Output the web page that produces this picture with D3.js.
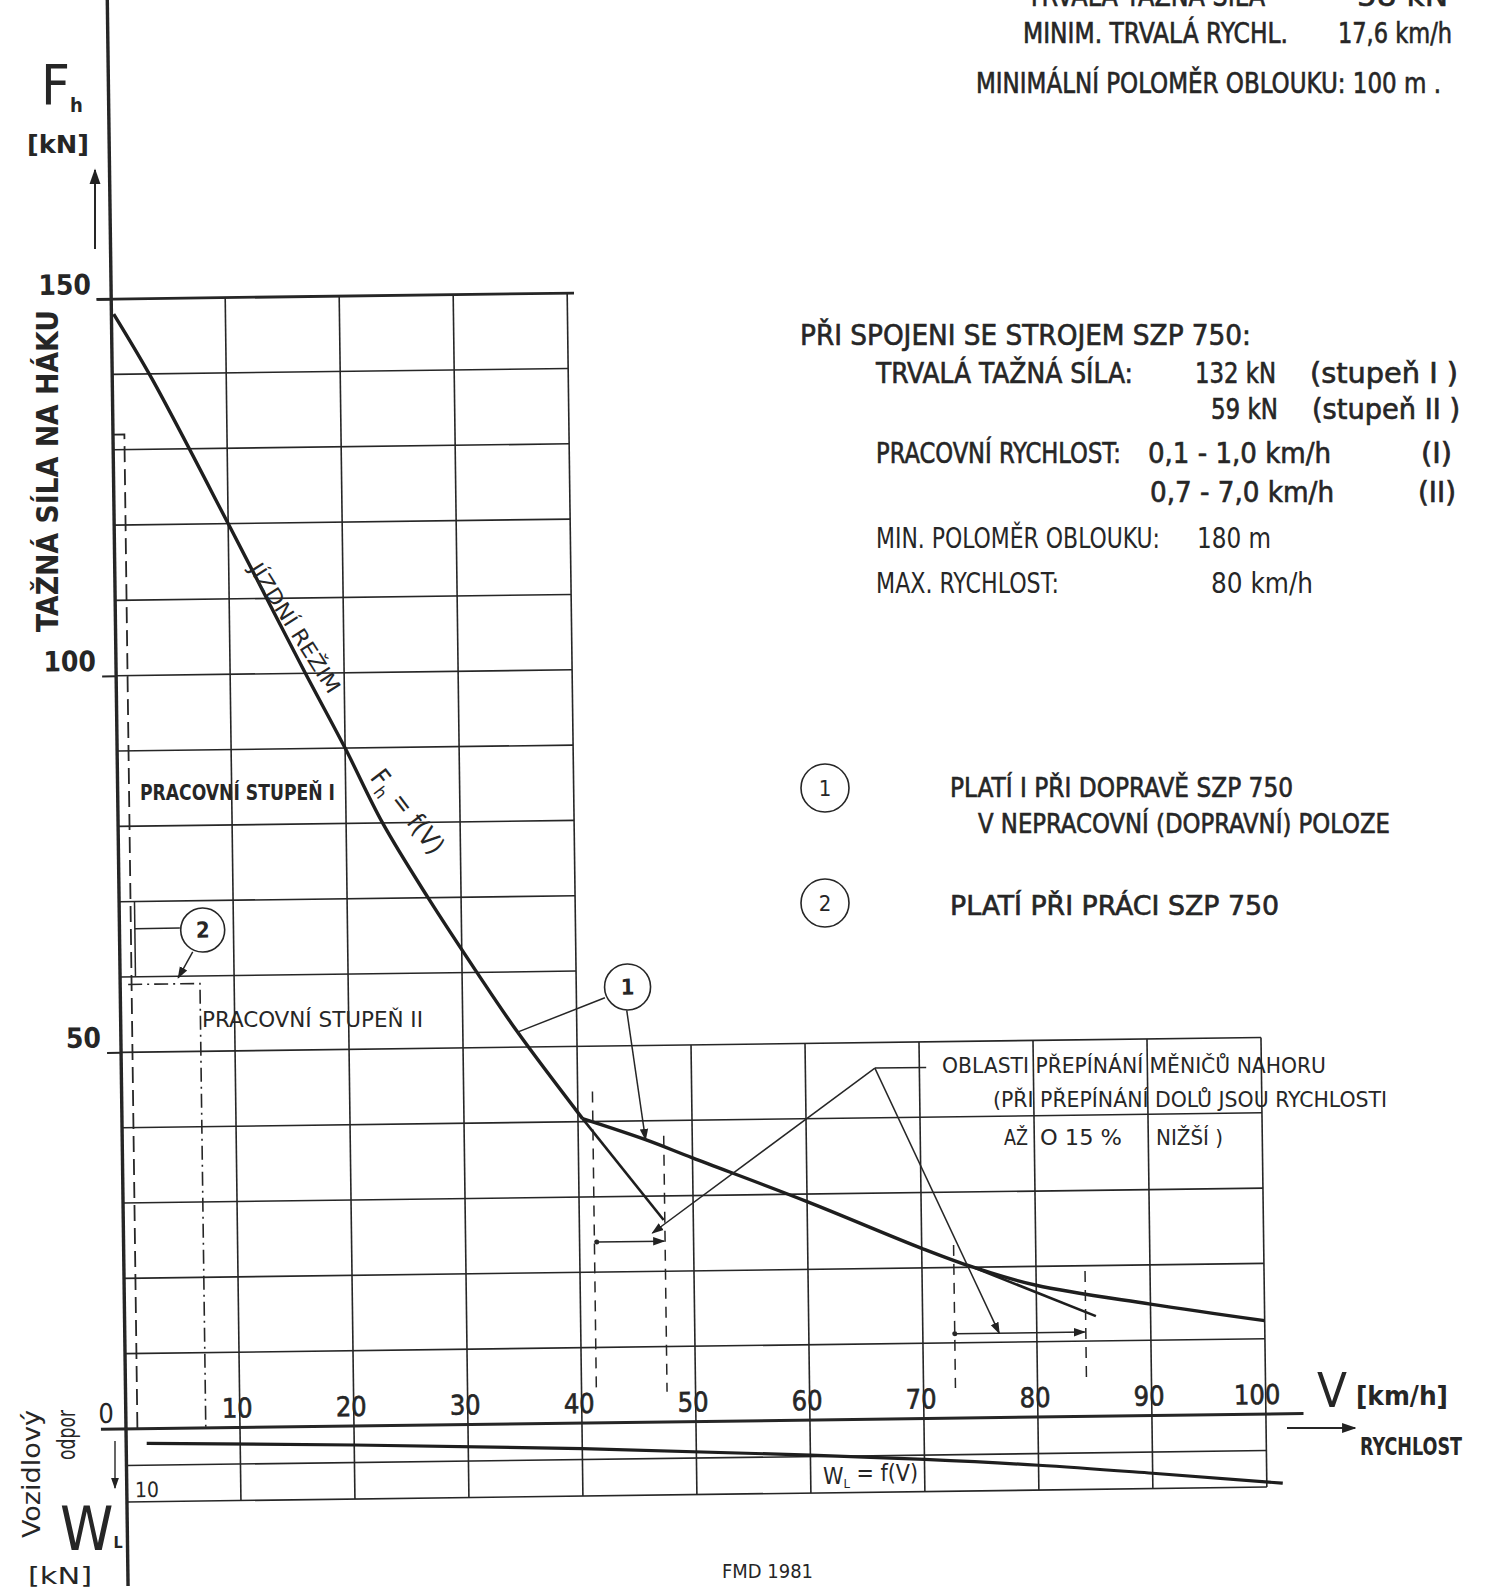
<!DOCTYPE html>
<html><head><meta charset="utf-8">
<script src="https://cdn.jsdelivr.net/npm/d3@7"></script>
<style>
html,body{margin:0;padding:0;background:#fff;}
svg{display:block;background:#fff;}
text{font-family:"Liberation Sans Narrow","DejaVu Sans Condensed","Liberation Sans",sans-serif;fill:#262626;}
text.heavy{stroke:#262626;stroke-width:0.6px;}
</style></head><body>
<svg id="c" width="1485" height="1594"></svg>
<script>
// ---------------- data ----------------
const speedTicks = [10,20,30,40,50,60,70,80,90,100];
const forceTicks = [50,100,150];
const forceGridFull = [10,20,30,40,50];              // lines over V 0..100
const forceGridUpper = [60,70,80,90,100,110,120,130,140]; // lines over V 0..40
const resistGrid = [5,10];
// tractive effort curve (jizdni rezim)
const jizdniV = [0.2,3.5,10,13.3,16.6,20,23.2,27.1,31.3,34.8,40.4];
const jizdniF = [148,139.3,120,110,100,90,80,70,60,52,40.4];
const upperV  = [40.4,45.9,50,60,70,74.5,80,90,100];
const upperF  = [40.4,37.5,35.0,29.0,22.6,20.0,17.5,14.8,12.4];
const branchAV = [40.4,47.4], branchAF = [40.4,26.8];
const branchBV = [74.5,85.2], branchBF = [20.0,13.3];
// vehicle resistance W_L
const odporV = [1.8,20,40,60,70,80,90,101.4];
const odporW = [2.0,2.6,3.5,4.8,5.6,6.6,7.9,9.5];
// working stages
const stage1V = [0,1.0,1.0], stage1F = [132,132,0];
const stage2V = [0.7,7,7],   stage2F = [59,59,0];
// switching regions (dashed verticals: V, Ftop, Fbottom)
const switchV = [41.3,47.5,72.8,84.3];
const switchTop = [44,38,23,19.3];
const switchBot = [4,4,4,4.6];
// horizontal range arrows
const rangeFrom = [41.5,72.8], rangeTo = [47.4,84.2], rangeF = [24,11.2];
// annotation anchor points (V,F)
const circle1 = [44.5,57.8], circle2 = [7.3,66.1];
const peak = [66.1,46.6];

// ---------------- scales ----------------
const svg = d3.select('#c');
const x = d3.scaleLinear().domain([0,100]).range([126,1266]);
const y = d3.scaleLinear().domain([0,150]).range([1429,299]);
const yW = d3.scaleLinear().domain([0,10]).range([1429,1502]);

const defs = svg.append('defs');
defs.append('marker').attr('id','ah').attr('viewBox','0 0 10 10')
  .attr('refX',9).attr('refY',5).attr('markerWidth',8).attr('markerHeight',8)
  .attr('orient','auto-start-reverse')
  .append('path').attr('d','M0,1.5L10,5L0,8.5Z').attr('fill','#222');

const g = svg.append('g').attr('transform','rotate(-0.75,126,1429)');
const ink = '#262626';
function seg(x1,y1,x2,y2,w,dash){
  const l = g.append('line').attr('x1',x1).attr('y1',y1).attr('x2',x2).attr('y2',y2)
    .attr('stroke',ink).attr('stroke-width',w);
  if(dash) l.attr('stroke-dasharray',dash);
  return l;
}
// grid
forceGridFull.forEach(f=>seg(x(0),y(f),x(100),y(f),1.6));
forceGridUpper.forEach(f=>seg(x(0),y(f),x(40),y(f),1.6));
seg(x(-1.3),y(150),x(40.6),y(150),2.8);
resistGrid.forEach(w=>seg(x(0),yW(w),x(100),yW(w),1.6));
speedTicks.forEach(v=>seg(x(v),yW(10),x(v),y(v<=40?150:50),1.6));
// axes lines
seg(x(0),y(190),x(0),yW(21.5),3.4);
seg(x(-2.2),y(0),x(103.3),y(0),3);

// axis labels via d3 axes
const ax = g.append('g').attr('transform',`translate(0,${y(0)})`)
  .call(d3.axisTop(x).tickValues(speedTicks).tickSize(0).tickPadding(10));
ax.select('.domain').remove();
ax.selectAll('text').attr('font-size',27).attr('font-family',null).attr('fill',ink)
  .attr('class','heavy').attr('dx',d=>d===100?-9:-3);
const ay = g.append('g').attr('transform',`translate(${x(0)},0)`)
  .call(d3.axisLeft(y).tickValues(forceTicks).tickSize(14).tickPadding(6).tickFormat(d3.format('d')));
ay.select('.domain').remove();
ay.selectAll('line').attr('stroke',ink).attr('stroke-width',2);
ay.selectAll('text').attr('font-size',28).attr('font-weight','bold').attr('font-family',null)
  .attr('fill',ink).attr('dy','-0.2em');
const a0 = g.append('g').attr('transform',`translate(${x(0)},0)`)
  .call(d3.axisLeft(y).tickValues([0]).tickSize(0).tickPadding(12));
a0.select('.domain').remove();
a0.selectAll('text').attr('font-size',27).attr('font-family',null).attr('fill',ink).attr('dy','-0.25em');
const aw = g.append('g').attr('transform',`translate(${x(0)},0)`)
  .call(d3.axisRight(yW).tickValues([10]).tickSize(0).tickPadding(8));
aw.select('.domain').remove();
aw.selectAll('text').attr('font-size',21).attr('font-family',null).attr('fill',ink).attr('dy','-0.25em');

// curves
const L = d3.line().x(d=>x(d[0])).y(d=>y(d[1]));
const LW = d3.line().x(d=>x(d[0])).y(d=>yW(d[1]));
g.append('path').attr('d',L.curve(d3.curveCatmullRom)(d3.zip(jizdniV,jizdniF)))
  .attr('fill','none').attr('stroke','#1e1e1e').attr('stroke-width',3.4);
g.append('path').attr('d',L.curve(d3.curveCatmullRom)(d3.zip(upperV,upperF)))
  .attr('fill','none').attr('stroke','#1e1e1e').attr('stroke-width',3.4);
g.append('path').attr('d',L.curve(d3.curveLinear)(d3.zip(branchAV,branchAF)))
  .attr('fill','none').attr('stroke','#1e1e1e').attr('stroke-width',2.6);
g.append('path').attr('d',L.curve(d3.curveLinear)(d3.zip(branchBV,branchBF)))
  .attr('fill','none').attr('stroke','#1e1e1e').attr('stroke-width',2.6);
g.append('path').attr('d',LW.curve(d3.curveMonotoneX)(d3.zip(odporV,odporW)))
  .attr('fill','none').attr('stroke','#1e1e1e').attr('stroke-width',3.2);

// working stage outlines
g.append('path').attr('d',L.curve(d3.curveLinear)(d3.zip(stage1V,stage1F)))
  .attr('fill','none').attr('stroke',ink).attr('stroke-width',1.8).attr('stroke-dasharray','16,7');
g.append('path').attr('d',L.curve(d3.curveLinear)(d3.zip(stage2V,stage2F)))
  .attr('fill','none').attr('stroke',ink).attr('stroke-width',1.6).attr('stroke-dasharray','14,5,2,5');
seg(x(1.35),y(70),x(1.35),y(60),1.5);

// switching dashed lines
switchV.forEach((v,i)=>seg(x(v),y(switchTop[i]),x(v),y(switchBot[i]),1.5,'11,8'));
rangeF.forEach((f,i)=>{
  seg(x(rangeFrom[i]),y(f),x(rangeTo[i]),y(f),1.5).attr('marker-end','url(#ah)');
  g.append('circle').attr('cx',x(rangeFrom[i])).attr('cy',y(f)).attr('r',2.5).attr('fill',ink);
});
// peak leaders
seg(x(peak[0]),y(peak[1]),x(70.6),y(peak[1]),1.5);
seg(x(peak[0]),y(peak[1]),x(46.4),y(25.1),1.5).attr('marker-end','url(#ah)');
seg(x(peak[0]),y(peak[1]),x(76.7),y(11.2),1.5).attr('marker-end','url(#ah)');
// circle 1
g.append('circle').attr('cx',x(circle1[0])).attr('cy',y(circle1[1])).attr('r',23)
  .attr('fill','#fff').attr('stroke',ink).attr('stroke-width',1.6);
g.append('text').attr('x',x(circle1[0])).attr('y',y(circle1[1])).attr('dy','0.35em')
  .attr('text-anchor','middle').attr('font-size',22).attr('font-weight','bold').text('1');
seg(x(42.5),y(56.4),x(34.8),y(52.0),1.5);
seg(x(44.4),y(54.7),x(45.9),y(37.5),1.5).attr('marker-end','url(#ah)');
// circle 2
g.append('circle').attr('cx',x(circle2[0])).attr('cy',y(circle2[1])).attr('r',22)
  .attr('fill','#fff').attr('stroke',ink).attr('stroke-width',1.6);
g.append('text').attr('x',x(circle2[0])).attr('y',y(circle2[1])).attr('dy','0.35em')
  .attr('text-anchor','middle').attr('font-size',22).attr('font-weight','bold').text('2');
seg(x(5.3),y(66.4),x(1.35),y(66.4),1.5);
seg(x(6.4),y(63.2),x(5.1),y(59.8),1.5).attr('marker-end','url(#ah)');

// ---------------- free text ----------------
function T(px,py,s,fs,w,opt){
  opt = opt||{};
  const t = svg.append('text').attr('x',px).attr('y',py).attr('font-size',fs).text(s);
  if(w){t.attr('textLength',w).attr('lengthAdjust','spacingAndGlyphs');}
  if(opt.bold) t.attr('font-weight','bold');
  if(opt.heavy) t.attr('class','heavy');
  return t;
}
function TR(cx,cy,ang,s,fs,w,opt){
  opt = opt||{};
  const t = svg.append('text').attr('transform',`translate(${cx},${cy}) rotate(${ang})`)
    .attr('text-anchor','middle').attr('dy','0.35em').attr('font-size',fs).text(s);
  if(w){t.attr('textLength',w).attr('lengthAdjust','spacingAndGlyphs');}
  if(opt.bold) t.attr('font-weight','bold');
  return t;
}
const H = {heavy:true};
// top right (first line is cut off by the page edge, as in the scan)
T(1027,6,'TRVALÁ TAŽNÁ SÍLA',30,238,H);
T(1357,6,'58 kN',30,91,H);
T(1023,43,'MINIM. TRVALÁ RYCHL.',28,265,H);
T(1338,43,'17,6 km/h',28,114,H);
T(976,93,'MINIMÁLNÍ POLOMĚR OBLOUKU:  100  m .',28,465,H);
// right block
T(800,345,'PŘI SPOJENI SE STROJEM  SZP 750:',28,451,H);
T(876,383,'TRVALÁ TAŽNÁ SÍLA:',28,257,H);
T(1195,383,'132 kN',28,81,H);
T(1310,383,'(stupeň I )',28,148,H);
T(1211,419,'59 kN',28,67,H);
T(1312,419,'(stupeň II )',28,148,H);
T(876,463,'PRACOVNÍ RYCHLOST:',28,245,H);
T(1148,463,'0,1 - 1,0  km/h',28,183,H);
T(1421,463,'(I)',28,31,H);
T(1150,502,'0,7 - 7,0  km/h',28,184,H);
T(1418,502,'(II)',28,38,H);
T(876,548,'MIN. POLOMĚR OBLOUKU:',28,284);
T(1197,548,'180 m',28,74);
T(876,593,'MAX. RYCHLOST:',28,183);
T(1211,593,'80 km/h',28,102);
// legend
svg.append('circle').attr('cx',825).attr('cy',788).attr('r',24).attr('fill','none').attr('stroke',ink).attr('stroke-width',1.6);
svg.append('text').attr('x',825).attr('y',788).attr('dy','0.35em').attr('text-anchor','middle').attr('font-size',22).text('1');
svg.append('circle').attr('cx',825).attr('cy',903).attr('r',24).attr('fill','none').attr('stroke',ink).attr('stroke-width',1.6);
svg.append('text').attr('x',825).attr('y',903).attr('dy','0.35em').attr('text-anchor','middle').attr('font-size',22).text('2');
T(950,797,'PLATÍ I PŘI DOPRAVĚ SZP 750',27,343,H);
T(978,833,'V NEPRACOVNÍ (DOPRAVNÍ) POLOZE',27,412,H);
T(950,915,'PLATÍ PŘI PRÁCI SZP 750',27,329,H);
// in-chart annotations
T(140,800,'PRACOVNÍ STUPEŇ I',21,195,{bold:true});
T(202,1027,'PRACOVNÍ STUPEŇ II',21,221);
TR(295,628,57.5,'JÍZDNÍ REŽIM',21,150);
const fh = svg.append('text').attr('transform','translate(407,812) rotate(52.5)')
  .attr('text-anchor','middle').attr('dy','0.35em').attr('font-size',26);
fh.append('tspan').text('F');
fh.append('tspan').attr('font-size',17).attr('dy','0.35em').text('h');
fh.append('tspan').attr('dy','-0.3em').text(' = f(V)');
T(942,1073,'OBLASTI PŘEPÍNÁNÍ MĚNIČŮ NAHORU',21,384);
T(993,1107,'(PŘI PŘEPÍNÁNÍ DOLŮ JSOU RYCHLOSTI',21,394);
T(1004,1145,'AŽ',21,24);
T(1040,1145,'O 15 %',21,82);
T(1156,1145,'NIŽŠÍ )',21,67);
const wl = svg.append('text').attr('x',823).attr('y',1484).attr('font-size',23);
wl.append('tspan').text('W');
wl.append('tspan').attr('font-size',13).attr('dy','0.3em').text('L');
wl.append('tspan').attr('dy','-0.3em').text(' = f(V)');
// axis titles
const fT = svg.append('text').attr('x',41).attr('y',104).attr('font-size',56).attr('font-weight','300');
fT.append('tspan').text('F');
fT.append('tspan').attr('font-size',20).attr('font-weight','bold').attr('dy','8').text('h');
T(27,153,'[kN]',24,62,{bold:true});
svg.append('line').attr('x1',95).attr('y1',249).attr('x2',95).attr('y2',170)
  .attr('stroke',ink).attr('stroke-width',2).attr('marker-end','url(#ah)');
svg.append('text').attr('transform','translate(58,632) rotate(-90)').attr('font-size',30)
  .attr('font-weight','bold').attr('textLength',322).attr('lengthAdjust','spacingAndGlyphs')
  .text('TAŽNÁ SÍLA NA HÁKU');
svg.append('text').attr('transform','translate(40,1538) rotate(-90)').attr('font-size',25)
  .attr('textLength',128).attr('lengthAdjust','spacingAndGlyphs').text('Vozidlový');
svg.append('text').attr('transform','translate(75,1460) rotate(-90)').attr('font-size',25)
  .attr('textLength',50).attr('lengthAdjust','spacingAndGlyphs').text('odpor');
const wT = svg.append('text').attr('x',60).attr('y',1550).attr('font-size',60).attr('font-weight','300');
wT.append('tspan').text('W');
wT.append('tspan').attr('font-size',16).attr('font-weight','bold').attr('dy','-2').text('L');
T(28,1584,'[kN]',23,64);
svg.append('line').attr('x1',115).attr('y1',1441).attr('x2',115).attr('y2',1488)
  .attr('stroke',ink).attr('stroke-width',1.4).attr('marker-end','url(#ah)');
// x axis title
T(1317,1407,'V',48,30).attr('font-weight','300');
T(1356,1405,'[km/h]',27,92,{bold:true});
svg.append('line').attr('x1',1287).attr('y1',1428).attr('x2',1355).attr('y2',1428)
  .attr('stroke',ink).attr('stroke-width',1.8).attr('marker-end','url(#ah)');
T(1360,1455,'RYCHLOST',24,102,{bold:true});
T(722,1578,'FMD 1981',20,91);
</script>
</body></html>
